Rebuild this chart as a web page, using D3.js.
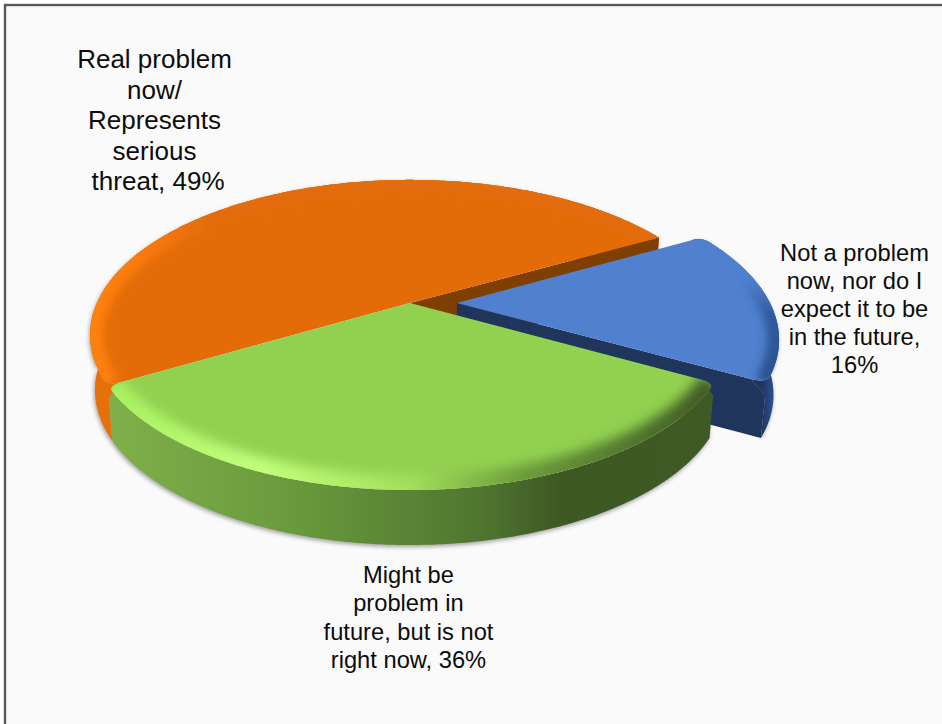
<!DOCTYPE html>
<html>
<head>
<meta charset="utf-8">
<script src="https://cdn.jsdelivr.net/npm/d3@7"></script>
<style>
html,body{margin:0;padding:0;background:#fff;overflow:hidden}
svg{display:block}
text{font-family:"Liberation Sans",Arial,sans-serif;fill:#0c0c0c}
</style>
</head>
<body>
<div id="chart"></div>
<script>
// ---- data ----
const categories = ["Real problem now/ Represents serious threat", "Might be problem in future, but is not right now", "Not a problem now, nor do I expect it to be in the future"];
const values = [49, 36, 16];
const labelLines = [
  ["Real problem", "now/", "Represents", "serious", "\u00a0threat, 49%"],
  ["Might be", "problem in", "future, but is not", "right now, 36%"],
  ["Not a problem", "now, nor do I", "expect it to be", "in the future,", "16%"]
];
const explode = [0, 0, 0.15];

// ---- layout / style ----
const W = 942, H = 724;
const labelStyle = [
  {x: 154.5, y: 68, size: 26, lead: 30.5},
  {x: 408.5, y: 583, size: 23.7, lead: 28.4},
  {x: 854.5, y: 261, size: 23.7, lead: 28}
];
const topFill = ["#e36c09", "#92d050", "#5080ce"];
const cutFill = ["#7f3f00", "#3f5a24", "#20355c"];
const wallStops = [
  [[0, "#e8700a"], [1, "#c85f08"]],
  [[0, "#7fb04a"], [0.3, "#6a9a3c"], [0.62, "#4f7530"], [0.75, "#3e5823"], [1, "#3f5a24"]],
  [[0, "#1f3557"], [0.8, "#20355c"], [0.93, "#2a5090"], [1, "#2f5898"]]
];
const rimStops = [
  [[0, "#ff8210"], [0.5, "#f9780c"], [1, "#e36c09"]],
  [[0, "#a8f060"], [0.25, "#c2ff7c"], [0.5, "#a2e05a"], [0.68, "#6d9c3c"], [1, "#3f5a24"]],
  [[0, "#2a4f88"], [0.7, "#2f5a9c"], [1, "#5080ce"]]
];
const rimWidth = [26, 30, 24];
const rimBlur = ["blurRim", "blurRimWide", "blurRim"];
// whether each slice's first edge has a rounded outer corner
const roundFirstCorner = [false, true, true];
// where the slice boundaries land on the foreshortened disc (degrees from the front, clockwise)
const drawnBoundaries = [119, 300, 421, 479];

const cx = 410, cy = 303, R = 313, r = 148.5, k = 0.206;
const depth = 55, converge = 0.015;

const pieAngles = d3.pie().sort(null).startAngle(0).endAngle(2 * Math.PI)(values);
const warp = d3.scaleLinear()
  .domain([pieAngles[0].startAngle, pieAngles[0].endAngle, pieAngles[1].endAngle, pieAngles[2].endAngle])
  .range(drawnBoundaries.map(d => d * Math.PI / 180));

const ys = d3.scaleLinear().domain([-1, 1]).range([-r, r]);
const xs = d3.scaleLinear().domain([-1, 1]).range([-R, R]);

function project(px, py, z) {
  const s = 1 / (1 - k * py);
  return [cx + xs(px) * s * (1 - converge * z), cy + ys(py) * s + z * depth];
}
function pt(i, a, rho, z) {
  const mid = warp((pieAngles[i].startAngle + pieAngles[i].endAngle) / 2);
  const phi = warp(a);
  return project(explode[i] * Math.sin(mid) + rho * Math.sin(phi), explode[i] * Math.cos(mid) + rho * Math.cos(phi), z);
}
function arcPts(i, a0, a1, z, rho = 1) {
  const n = Math.max(4, Math.ceil(Math.abs(a1 - a0) / 0.01));
  return d3.range(n + 1).map(j => pt(i, a0 + (a1 - a0) * j / n, rho, z));
}
const line = d3.line();
const quad = (p0, c, p1) => d3.range(13).map(j => {
  const t = j / 12, u = 1 - t;
  return [u * u * p0[0] + 2 * u * t * c[0] + t * t * p1[0], u * u * p0[1] + 2 * u * t * c[1] + t * t * p1[1]];
});
const cornerA = 0.04, cornerR = 0.955, cornerZ = 0.22;
function rimPts(i) {
  const a0 = pieAngles[i].startAngle, a1 = pieAngles[i].endAngle;
  const first = roundFirstCorner[i];
  return [
    ...(first ? quad(pt(i, a0, cornerR, 0), pt(i, a0, 1, 0), pt(i, a0 + cornerA, 1, 0)) : []),
    ...arcPts(i, first ? a0 + cornerA : a0, a1 - cornerA, 0),
    ...quad(pt(i, a1 - cornerA, 1, 0), pt(i, a1, 1, 0), pt(i, a1, cornerR, 0))
  ];
}
function apex(i) {
  return pt(i, pieAngles[i].startAngle, 0, 0);
}
function topPts(i) {
  return [apex(i), ...rimPts(i)];
}
function wallPts(i) {
  const a0 = pieAngles[i].startAngle, a1 = pieAngles[i].endAngle;
  return [pt(i, a0, 1, cornerZ), ...rimPts(i), pt(i, a1, 1, cornerZ), ...arcPts(i, a1, a0, 1)];
}
function cutPts(i, a) {
  const first = roundFirstCorner[i];
  return [apex(i), pt(i, a, first ? cornerR : 1, 0), pt(i, a, 1, cornerZ), pt(i, a, 1, 1), pt(i, a, 0, 1)];
}

const svg = d3.select("#chart").append("svg").attr("width", W).attr("height", H);
const defs = svg.append("defs");

function blurFilter(id, dev) {
  defs.append("filter").attr("id", id).attr("x", "-20%").attr("y", "-20%").attr("width", "140%").attr("height", "140%")
    .append("feGaussianBlur").attr("stdDeviation", dev);
}
blurFilter("blurRim", 4.5);
blurFilter("blurRimWide", 6);
blurFilter("blurShadow", 2.2);

function gradient(id, stops, x1, x2, y1 = 0, y2 = 0) {
  const g = defs.append("linearGradient").attr("id", id).attr("gradientUnits", "userSpaceOnUse")
    .attr("x1", x1).attr("x2", x2).attr("y1", y1).attr("y2", y2);
  stops.forEach(s => g.append("stop").attr("offset", s[0]).attr("stop-color", s[1]));
}

values.forEach((v, i) => {
  const ex = d3.extent(wallPts(i), p => p[0]), ey = d3.extent(wallPts(i), p => p[1]);
  gradient("wall" + i, wallStops[i], ex[0], ex[1]);
  if (i === 0) gradient("rim0", rimStops[0], ex[0], ex[0] + 120);
  if (i === 1) gradient("rim1", rimStops[1], ex[0], ex[1]);
  if (i === 2) gradient("rim2", rimStops[2], 0, 0, ey[1] - 40, ey[0] + 40);
  defs.append("clipPath").attr("id", "clip" + i).append("path").attr("d", line(topPts(i)) + "Z");
});

// chart area
svg.append("rect").attr("x", 5).attr("y", 5).attr("width", W + 20).attr("height", H + 20)
  .attr("fill", "#fafafa").attr("stroke", "#595959").attr("stroke-width", 2.4);

function drawShadow(i) {
  svg.append("path").attr("d", line(wallPts(i)) + "Z")
    .attr("fill", "#555").attr("opacity", 0.55).attr("filter", "url(#blurShadow)")
    .attr("transform", "translate(-1,2)");
}
function drawWall(i) {
  svg.append("path").attr("class", "wall").attr("d", line(wallPts(i)) + "Z").attr("fill", `url(#wall${i})`);
}
function drawCut(i, a) {
  svg.append("path").attr("class", "cut").attr("d", line(cutPts(i, a)) + "Z").attr("fill", cutFill[i]);
}
function drawTop(i) {
  svg.append("path").attr("class", "top").attr("d", line(topPts(i)) + "Z").attr("fill", topFill[i]);
  const a0 = pieAngles[i].startAngle, a1 = pieAngles[i].endAngle;
  svg.append("g").attr("clip-path", `url(#clip${i})`)
    .append("path").attr("d", line(arcPts(i, a0, a1, 0)))
    .attr("fill", "none").attr("stroke", `url(#rim${i})`).attr("stroke-width", rimWidth[i])
    .attr("filter", `url(#${rimBlur[i]})`);
}

[0, 2, 1].forEach(drawShadow);
drawWall(0);
drawCut(0, pieAngles[0].startAngle);
drawTop(0);
drawWall(2);
drawCut(2, pieAngles[2].startAngle);
drawTop(2);
drawWall(1);
drawTop(1);

// labels
labelLines.forEach((lines, i) => {
  const st = labelStyle[i];
  const t = svg.append("text").attr("text-anchor", "middle").attr("font-size", st.size);
  lines.forEach((l, j) => t.append("tspan").attr("x", st.x).attr("y", st.y + j * st.lead).text(l));
});
</script>
</body>
</html>
